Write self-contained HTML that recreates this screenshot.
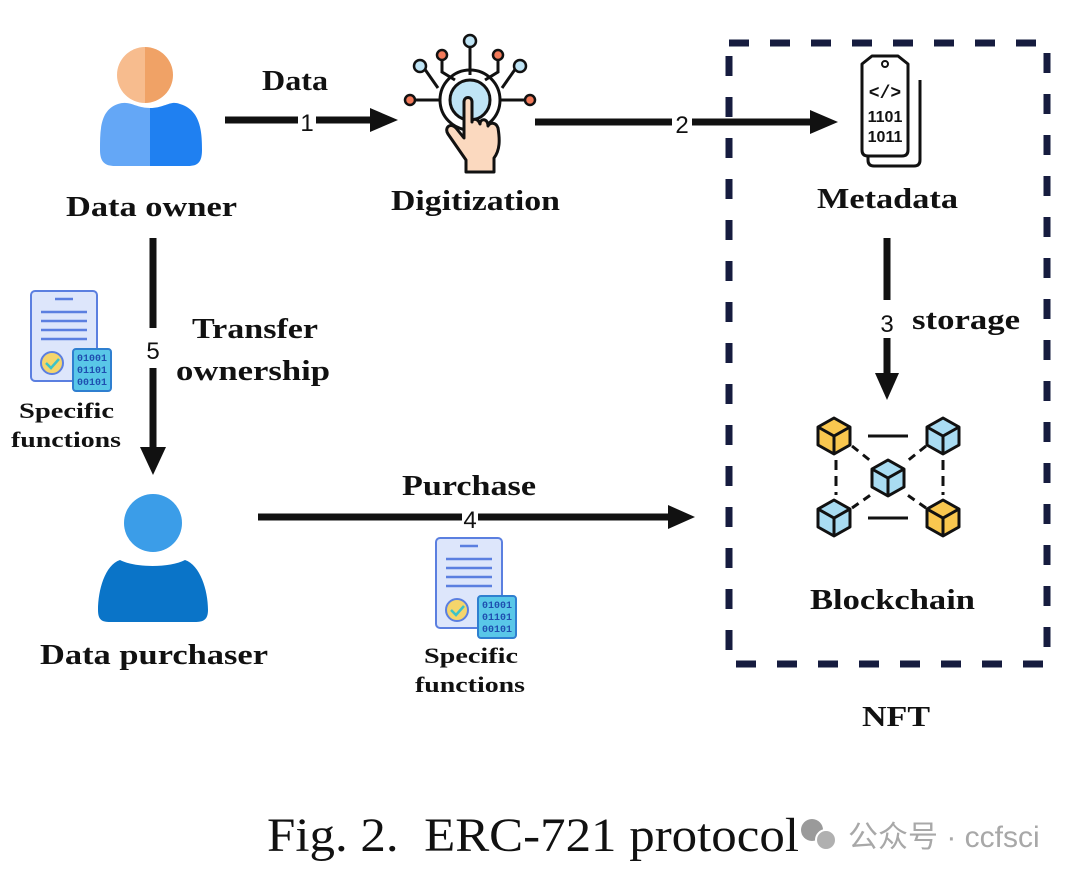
<!DOCTYPE html>
<html><head><meta charset="utf-8"><style>
html,body{margin:0;padding:0;background:#fff;width:1080px;height:881px;overflow:hidden}
svg{display:block}
.b{font-family:"Liberation Serif",serif;font-weight:bold;fill:#111}
.n{font-family:"Liberation Sans",sans-serif;fill:#111}
</style></head><body>
<svg width="1080" height="881" viewBox="0 0 1080 881" xmlns="http://www.w3.org/2000/svg">
<defs>
<g id="doc">
 <rect x="0" y="0" width="66" height="90" rx="4" fill="#dde6fb" stroke="#5b7fe0" stroke-width="2"/>
 <line x1="24" y1="8" x2="42" y2="8" stroke="#5b7fe0" stroke-width="2.5"/>
 <line x1="10" y1="21" x2="56" y2="21" stroke="#5b7fe0" stroke-width="2.5"/>
 <line x1="10" y1="30" x2="56" y2="30" stroke="#5b7fe0" stroke-width="2.5"/>
 <line x1="10" y1="39" x2="56" y2="39" stroke="#5b7fe0" stroke-width="2.5"/>
 <line x1="10" y1="48" x2="56" y2="48" stroke="#5b7fe0" stroke-width="2.5"/>
 <circle cx="21" cy="72" r="11" fill="#f5d56b" stroke="#5b7fe0" stroke-width="2"/>
 <path d="M15 72 l5 5 l8 -9" fill="none" stroke="#3cc3c8" stroke-width="2.5"/>
 <rect x="42" y="58" width="38" height="42" rx="3" fill="#59c7e8" stroke="#2f7fd0" stroke-width="2"/>
 <text x="61" y="70" font-family="Liberation Mono,monospace" font-size="10" font-weight="bold" fill="#1f4fb0" text-anchor="middle">01001</text>
 <text x="61" y="82" font-family="Liberation Mono,monospace" font-size="10" font-weight="bold" fill="#1f4fb0" text-anchor="middle">01101</text>
 <text x="61" y="94" font-family="Liberation Mono,monospace" font-size="10" font-weight="bold" fill="#1f4fb0" text-anchor="middle">00101</text>
</g>
<g id="cube">
 <path d="M0 -18 L16 -9 L16 9 L0 18 L-16 9 L-16 -9 Z" stroke="#111" stroke-width="3" stroke-linejoin="round"/>
 <path d="M-16 -9 L0 0 L16 -9 M0 0 L0 18" fill="none" stroke="#111" stroke-width="3"/>
</g>
</defs>

<!-- Data owner -->
<path d="M145 47 a28 28 0 0 0 0 56 z" fill="#f7bc8e"/>
<path d="M145 47 a28 28 0 0 1 0 56 z" fill="#f0a266"/>
<path d="M150 108 C135 108 130 100 118 104 C100 110 100 130 100 150 C100 162 105 166 115 166 L152 166 L152 108 Z" fill="#64a7f6"/>
<path d="M150 108 C165 108 170 100 180 104 C200 110 202 130 202 150 C202 162 198 166 188 166 L150 166 Z" fill="#1f80f1"/>
<text x="66" y="216" class="b" font-size="29" textLength="171" lengthAdjust="spacingAndGlyphs">Data owner</text>

<!-- arrow 1 -->
<line x1="225" y1="120" x2="372" y2="120" stroke="#111" stroke-width="7"/>
<path d="M370 108 L398 120 L370 132 Z" fill="#111"/>
<rect x="298" y="108" width="18" height="24" fill="#fff"/>
<text x="307" y="131" class="n" font-size="24" text-anchor="middle">1</text>
<text x="262" y="90" class="b" font-size="28" textLength="66" lengthAdjust="spacingAndGlyphs">Data</text>

<!-- Digitization icon -->
<g stroke="#111" stroke-width="3" fill="none">
 <line x1="470" y1="44" x2="470" y2="75"/>
 <path d="M442 58 L442 72 L455 80"/><path d="M498 58 L498 72 L485 80"/>
 <path d="M424 68 L438 88"/><path d="M516 68 L502 88"/>
 <line x1="413" y1="100" x2="440" y2="100"/><line x1="500" y1="100" x2="527" y2="100"/>
 <circle cx="470" cy="100" r="30"/>
</g>
<circle cx="470" cy="100" r="20" fill="#bfe4f5" stroke="#111" stroke-width="3"/>
<circle cx="470" cy="41" r="6" fill="#bfe4f5" stroke="#111" stroke-width="2.5"/>
<circle cx="442" cy="55" r="5" fill="#f27a5a" stroke="#111" stroke-width="2.5"/>
<circle cx="498" cy="55" r="5" fill="#f27a5a" stroke="#111" stroke-width="2.5"/>
<circle cx="420" cy="66" r="6" fill="#bfe4f5" stroke="#111" stroke-width="2.5"/>
<circle cx="520" cy="66" r="6" fill="#bfe4f5" stroke="#111" stroke-width="2.5"/>
<circle cx="410" cy="100" r="5" fill="#f27a5a" stroke="#111" stroke-width="2.5"/>
<circle cx="530" cy="100" r="5" fill="#f27a5a" stroke="#111" stroke-width="2.5"/>
<path d="M464 102 L464 138 L456 128 C450 122 444 128 448 134 L466 160 L466 172 L494 172 L494 158 C500 150 500 140 498 128 C496 122 490 122 488 126 C488 118 480 118 480 124 C478 118 472 118 472 122 L472 102 C472 96 464 96 464 102 Z" fill="#fbd9bf" stroke="#111" stroke-width="3" stroke-linejoin="round"/>
<text x="391" y="210" class="b" font-size="29" textLength="169" lengthAdjust="spacingAndGlyphs">Digitization</text>

<!-- arrow 2 -->
<line x1="535" y1="122" x2="812" y2="122" stroke="#111" stroke-width="7"/>
<path d="M810 110 L838 122 L810 134 Z" fill="#111"/>
<rect x="672" y="110" width="20" height="24" fill="#fff"/>
<text x="682" y="133" class="n" font-size="24" text-anchor="middle">2</text>

<!-- dashed NFT box -->
<rect x="729" y="43" width="318" height="621" fill="none" stroke="#161c3f" stroke-width="7" stroke-dasharray="20 21"/>

<!-- Metadata icon -->
<g stroke="#111" stroke-width="3" stroke-linejoin="round">
 <path d="M868 70 L868 160 Q868 166 874 166 L914 166 Q920 166 920 160 L920 80" fill="#fff"/>
 <path d="M862 64 L872 56 L898 56 L908 64 L908 150 Q908 156 902 156 L868 156 Q862 156 862 150 Z" fill="#fff"/>
</g>
<circle cx="885" cy="64" r="3" fill="none" stroke="#111" stroke-width="2"/>
<text x="885" y="98" font-family="Liberation Mono,monospace" font-weight="bold" font-size="18" text-anchor="middle" fill="#111">&lt;/&gt;</text>
<text x="885" y="122" font-family="Liberation Sans,sans-serif" font-weight="bold" font-size="16" text-anchor="middle" fill="#111">1101</text>
<text x="885" y="142" font-family="Liberation Sans,sans-serif" font-weight="bold" font-size="16" text-anchor="middle" fill="#111">1011</text>
<text x="817" y="208" class="b" font-size="29" textLength="141" lengthAdjust="spacingAndGlyphs">Metadata</text>

<!-- arrow 3 -->
<line x1="887" y1="238" x2="887" y2="300" stroke="#111" stroke-width="7"/>
<line x1="887" y1="338" x2="887" y2="375" stroke="#111" stroke-width="7"/>
<path d="M875 373 L887 400 L899 373 Z" fill="#111"/>
<text x="887" y="332" class="n" font-size="24" text-anchor="middle">3</text>
<text x="912" y="329" class="b" font-size="28" textLength="108" lengthAdjust="spacingAndGlyphs">storage</text>

<!-- Blockchain icon -->
<g stroke="#111" stroke-width="3">
 <line x1="868" y1="436" x2="908" y2="436"/><line x1="868" y1="518" x2="908" y2="518"/>
 <line x1="836" y1="460" x2="836" y2="495" stroke-dasharray="10 6"/>
 <line x1="943" y1="460" x2="943" y2="495" stroke-dasharray="10 6"/>
 <line x1="852" y1="446" x2="872" y2="462" stroke-dasharray="8 6"/>
 <line x1="926" y1="446" x2="906" y2="462" stroke-dasharray="8 6"/>
 <line x1="852" y1="508" x2="872" y2="494" stroke-dasharray="8 6"/>
 <line x1="926" y1="508" x2="906" y2="494" stroke-dasharray="8 6"/>
</g>
<use href="#cube" x="834" y="436" fill="#f9c74f"/>
<use href="#cube" x="943" y="436" fill="#a9dcf2"/>
<use href="#cube" x="888" y="478" fill="#a9dcf2"/>
<use href="#cube" x="834" y="518" fill="#a9dcf2"/>
<use href="#cube" x="943" y="518" fill="#f9c74f"/>
<text x="810" y="609" class="b" font-size="29" textLength="165" lengthAdjust="spacingAndGlyphs">Blockchain</text>
<text x="862" y="726" class="b" font-size="29" textLength="68" lengthAdjust="spacingAndGlyphs">NFT</text>

<!-- arrow 5 -->
<line x1="153" y1="238" x2="153" y2="328" stroke="#111" stroke-width="7"/>
<line x1="153" y1="368" x2="153" y2="450" stroke="#111" stroke-width="7"/>
<path d="M140 447 L153 475 L166 447 Z" fill="#111"/>
<text x="153" y="359" class="n" font-size="24" text-anchor="middle">5</text>
<text x="192" y="338" class="b" font-size="29" textLength="126" lengthAdjust="spacingAndGlyphs">Transfer</text>
<text x="176" y="380" class="b" font-size="29" textLength="154" lengthAdjust="spacingAndGlyphs">ownership</text>

<use href="#doc" x="31" y="291"/>
<text x="19" y="418" class="b" font-size="22" textLength="95" lengthAdjust="spacingAndGlyphs">Specific</text>
<text x="11" y="447" class="b" font-size="22" textLength="110" lengthAdjust="spacingAndGlyphs">functions</text>

<!-- Data purchaser -->
<circle cx="153" cy="523" r="29" fill="#3b9de8"/>
<path d="M120 560 C135 568 170 568 185 560 C200 565 208 590 208 610 C208 620 203 622 195 622 L110 622 C102 622 98 620 98 610 C98 590 105 565 120 560 Z" fill="#0a74c8"/>
<text x="40" y="664" class="b" font-size="29" textLength="228" lengthAdjust="spacingAndGlyphs">Data purchaser</text>

<!-- arrow 4 -->
<line x1="258" y1="517" x2="670" y2="517" stroke="#111" stroke-width="7"/>
<path d="M668 505 L695 517 L668 529 Z" fill="#111"/>
<rect x="462" y="506" width="16" height="24" fill="#fff"/>
<text x="470" y="528" class="n" font-size="24" text-anchor="middle">4</text>
<text x="402" y="495" class="b" font-size="29" textLength="134" lengthAdjust="spacingAndGlyphs">Purchase</text>

<use href="#doc" x="436" y="538"/>
<text x="424" y="663" class="b" font-size="22" textLength="94" lengthAdjust="spacingAndGlyphs">Specific</text>
<text x="415" y="692" class="b" font-size="22" textLength="110" lengthAdjust="spacingAndGlyphs">functions</text>

<!-- caption -->
<text x="267" y="851" font-family="Liberation Serif,serif" font-size="48" fill="#111" textLength="532" lengthAdjust="spacingAndGlyphs">Fig. 2.&#160;&#160;ERC-721&#160;protocol</text>
<circle cx="812" cy="830" r="11" fill="#9a9a9a"/>
<circle cx="826" cy="840" r="10" fill="#b0b0b0" stroke="#fff" stroke-width="2"/>
<text x="848" y="847" font-family="Liberation Sans,'Noto Sans CJK SC',sans-serif" font-size="30" fill="#a8a8a8">公众号 · ccfsci</text>
</svg>
</body></html>
